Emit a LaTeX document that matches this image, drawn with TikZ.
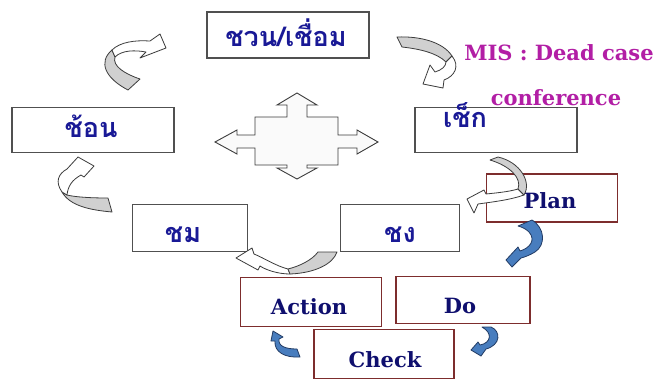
\documentclass[tikz,border=0pt]{standalone}
\usepackage{fontspec}
\newfontfamily\thaifont[Script=Thai]{Loma}
\newfontfamily\serifb{DejaVu Serif}
\definecolor{thaiblue}{RGB}{25,25,150}
\definecolor{pdcablue}{RGB}{15,15,110}
\definecolor{misc}{RGB}{178,30,165}
\definecolor{boxgray}{RGB}{80,80,80}
\definecolor{boxred}{RGB}{125,45,45}
\definecolor{ribgray}{RGB}{208,208,208}
\definecolor{ribblue}{RGB}{72,125,190}
\definecolor{ribline}{RGB}{60,60,60}
\definecolor{blueline}{RGB}{35,60,100}
\tikzset{
  thaibox/.style={draw=boxgray, line width=1.2pt, fill=white, inner sep=0pt},
  pdcabox/.style={draw=boxred, line width=1.2pt, fill=white, inner sep=0pt},
  thaitext/.style={font=\thaifont\bfseries\fontsize{27}{27}\selectfont, text=thaiblue, anchor=base, inner sep=0pt},
  pdcatext/.style={font=\serifb\bfseries\fontsize{21}{21}\selectfont, text=pdcablue, anchor=base, inner sep=0pt},
  mistext/.style={font=\serifb\bfseries\fontsize{21}{21}\selectfont, text=misc, anchor=base, inner sep=0pt},
  ribw/.style={fill=white, draw=ribline, line width=0.8pt, line join=round},
  ribg/.style={fill=ribgray, draw=ribline, line width=0.8pt, line join=round},
  ribb/.style={fill=ribblue, draw=blueline, line width=0.8pt, line join=round},
  crossst/.style={fill=gray!4, draw=ribline, line width=0.9pt}
}
\begin{document}
\begin{tikzpicture}[x=1pt,y=-1pt]
\useasboundingbox[fill=white] (0,0) rectangle (659,381);
% boxes
\node[thaibox, minimum width=162pt, minimum height=46pt] (chuan) at (288,35) {};
\node[thaibox, minimum width=162pt, minimum height=45pt] (son) at (93,130) {};
\node[thaibox, minimum width=162pt, minimum height=45pt] (chek) at (496,130) {};
\node[thaibox, minimum width=115pt, minimum height=47pt] (chom) at (190,228) {};
\node[thaibox, minimum width=119pt, minimum height=47pt] (chong) at (400,228) {};
\node[pdcabox, minimum width=131pt, minimum height=48pt] (plan) at (552,198) {};
\node[pdcabox, minimum width=141pt, minimum height=49pt] (action) at (311,302) {};
\node[pdcabox, minimum width=134pt, minimum height=47pt] (do) at (463,300) {};
\node[pdcabox, minimum width=140pt, minimum height=49pt] (check) at (384,354) {};
% texts
\node[thaitext] (chuanT) at (286,46) {ชวน/เชื่อม};
\node[thaitext] (sonT) at (91,137) {ช้อน};
\node[thaitext] (chekT) at (465,127) {เช็ก};
\node[thaitext] (chomT) at (183,242) {ชม};
\node[thaitext] (chongT) at (400,242) {ชง};
\node[pdcatext] (planT) at (550,208) {Plan};
\node[pdcatext] (actionT) at (309,314) {Action};
\node[pdcatext] (doT) at (460,313) {Do};
\node[pdcatext] (checkT) at (385,367) {Check};
\node[mistext] (mis1) at (559,60) {MIS : Dead case};
\node[mistext] (mis2) at (556,105) {conference};
% central cross arrow
\draw[crossst] (215,142) -- (237,130) -- (237,135) -- (255,135) -- (255,117) -- (287,117) -- (287,105) -- (277,105) -- (297,93) -- (317,105) -- (307,105) -- (307,117) -- (338,117) -- (338,135) -- (357,135) -- (357,130) -- (378,142) -- (357,154) -- (357,148) -- (338,148) -- (338,165) -- (307,165) -- (307,168) -- (317,168) -- (297,179) -- (277,168) -- (287,168) -- (287,165) -- (255,165) -- (255,148) -- (237,148) -- (237,154) -- cycle;
% arrow A (top left)
\draw[ribg] (128,90) .. controls (105,78) and (98,62) .. (112,50) -- (115,57) .. controls (112,66) and (125,74) .. (140,79) -- cycle;
\draw[ribw] (112,50) .. controls (120,42) and (135,40) .. (150,41) -- (160,34) -- (166,48) -- (140,58) -- (146,52) .. controls (135,50) and (122,50) .. (115,57) -- cycle;
% arrow B (top right)
\draw[ribg] (397,37) .. controls (420,36) and (443,42) .. (452,56) -- (446,62) .. controls (437,53) and (420,49) .. (402,47) -- cycle;
\draw[ribw] (446,62) -- (452,56) .. controls (460,66) and (455,76) .. (444,80) -- (443,88) -- (423,84) -- (430,65) -- (435,72) .. controls (442,70) and (446,66) .. (446,62) -- cycle;
% arrow C (left)
\draw[ribg] (62,192) .. controls (70,206) and (90,210) .. (112,212) -- (108,198) .. controls (90,198) and (75,197) .. (67,195) -- cycle;
\draw[ribw] (62,192) .. controls (55,182) and (58,174) .. (67,169) -- (78,157) -- (94,166) -- (84,177) -- (81,175) .. controls (72,180) and (68,186) .. (67,195) -- cycle;
% arrow D (bottom centre)
\draw[ribw] (290,274) .. controls (278,274) and (266,270) .. (260,266) -- (258,270) -- (236,258) -- (252,248) -- (254,254) .. controls (264,258) and (276,266) .. (288,269) -- cycle;
\draw[ribg] (288,269) .. controls (300,266) and (312,260) .. (318,252) -- (337,252) .. controls (333,264) and (315,273) .. (290,274) -- cycle;
% arrow E (check -> plan)
\draw[ribw] (518,189) .. controls (508,192) and (495,193) .. (486,194) -- (484,190) -- (467,199) -- (474,213) -- (478,204) .. controls (492,202) and (510,200) .. (524,195) -- cycle;
\draw[ribg] (490,160) -- (498,157) .. controls (520,162) and (532,182) .. (524,195) -- (518,189) .. controls (522,178) and (510,166) .. (490,160) -- cycle;
% arrow F (plan -> do)
\draw[ribb] (518,226) -- (532,220) .. controls (545,228) and (546,245) .. (535,252) .. controls (530,255) and (525,257) .. (521,258) -- (512,267) -- (506,260) -- (518,247) -- (520,251) .. controls (530,248) and (536,240) .. (529,232) .. controls (526,229) and (522,227) .. (518,226) -- cycle;
% arrow G (do -> check)
\draw[ribb] (482,327) -- (491,327) .. controls (501,331) and (501,345) .. (486,349) -- (481,356) -- (471,350) -- (478,342) -- (480,345) .. controls (491,343) and (493,333) .. (482,327) -- cycle;
% arrow H (check -> action)
\draw[ribb] (271,341) -- (273,331) -- (283,337) -- (279,339) .. controls (278,346) and (285,349) .. (297,349) -- (300,357) .. controls (285,358) and (274,352) .. (275,341) -- cycle;
\end{tikzpicture}
\end{document}
